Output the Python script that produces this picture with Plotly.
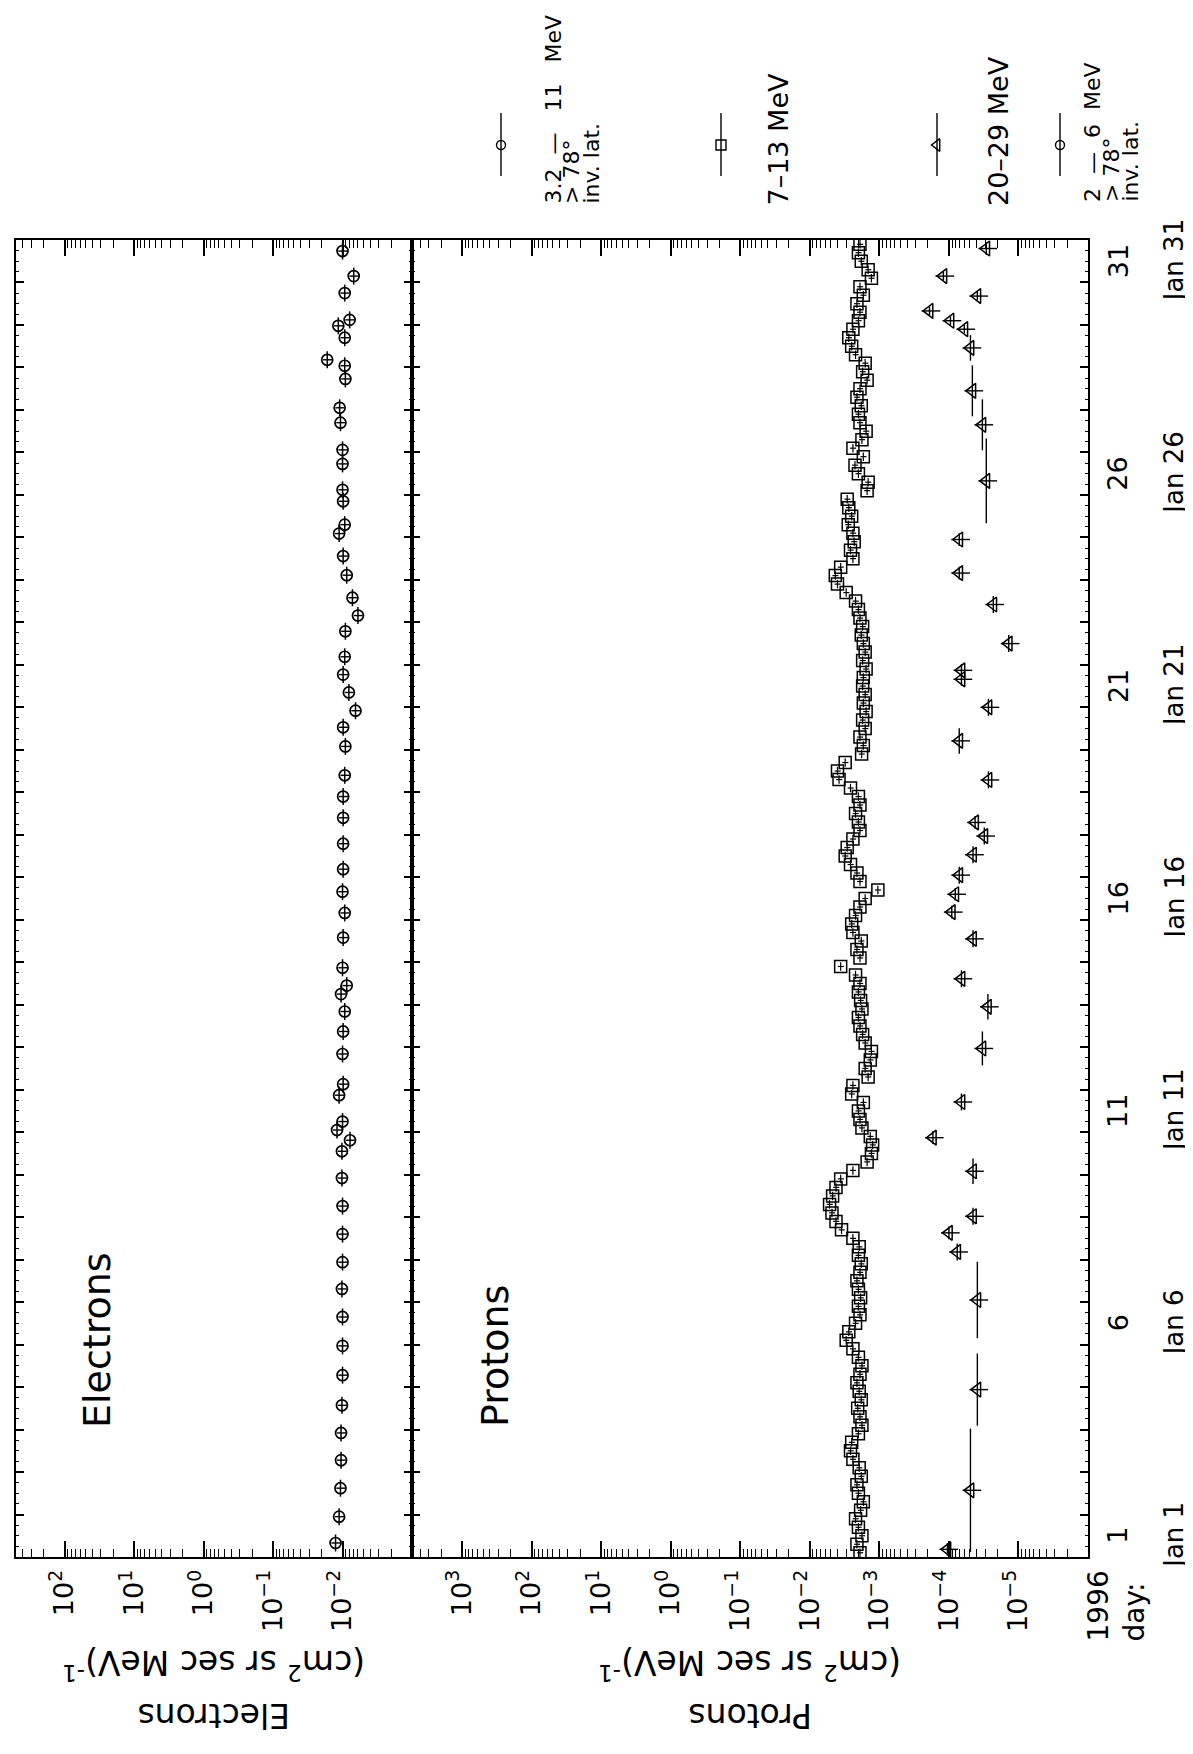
import plotly.graph_objects as go

W, H = 1193, 1754
FONT = "DejaVu Sans"

# ---------------- data ----------------
# Electrons 2-6 MeV, >78 deg inv. lat.
e_day = [1.33, 1.95, 2.62, 3.28, 3.92, 4.57, 5.28, 5.97, 6.65, 7.31, 7.94, 8.60, 9.26, 9.92,
         10.55, 10.81, 11.05, 11.25, 11.87, 12.13, 12.84, 13.37, 13.84, 14.25, 14.45, 14.87,
         15.58, 16.16, 16.66, 17.19, 17.79, 18.40, 18.90, 19.40, 20.08, 20.53, 20.92, 21.35,
         21.77, 22.19, 22.79, 23.16, 23.58, 24.11, 24.56, 25.09, 25.30, 25.85, 26.12, 26.73,
         27.06, 27.70, 28.05, 28.73, 29.04, 29.18, 29.70, 29.98, 30.12, 30.75, 31.15, 31.74]
e_flux = [1.26e-2, 1.12e-2, 1.07e-2, 1.05e-2, 1.05e-2, 1.02e-2, 1.00e-2, 1.00e-2, 1.00e-2, 1.02e-2,
          1.00e-2, 1.00e-2, 1.00e-2, 1.02e-2, 1.02e-2, 7.8e-3, 1.20e-2, 1.00e-2, 1.12e-2, 9.8e-3,
          1.00e-2, 9.8e-3, 9.3e-3, 1.05e-2, 8.7e-3, 1.00e-2, 9.8e-3, 9.3e-3, 1.00e-2, 9.8e-3,
          9.8e-3, 9.8e-3, 9.8e-3, 9.3e-3, 9.1e-3, 9.8e-3, 6.5e-3, 8.1e-3, 9.8e-3, 9.3e-3,
          9.1e-3, 6.0e-3, 7.2e-3, 8.7e-3, 9.8e-3, 1.12e-2, 9.3e-3, 9.8e-3, 1.00e-2, 1.00e-2,
          1.00e-2, 1.07e-2, 1.10e-2, 9.1e-3, 9.3e-3, 1.66e-2, 9.3e-3, 1.15e-2, 7.9e-3, 9.3e-3,
          6.9e-3, 1.00e-2]

# Protons 7-13 MeV (squares)
p_sq_day = [1.1, 1.3, 1.5, 1.7, 1.9, 2.1, 2.3, 2.5, 2.7, 2.9,
            3.1, 3.3, 3.5, 3.7, 3.9, 4.1, 4.3, 4.5, 4.7, 4.9,
            5.1, 5.3, 5.5, 5.7, 5.9, 6.1, 6.3, 6.5, 6.7, 6.9,
            7.1, 7.3, 7.5, 7.7, 7.9, 8.1, 8.3, 8.5, 8.7, 8.9,
            9.1, 9.3, 9.5, 9.7, 9.9, 10.1, 10.3, 10.5, 10.7, 10.9,
            11.1, 11.3, 11.5, 11.7, 11.9, 12.1, 12.3, 12.5, 12.7, 12.9,
            13.1, 13.3, 13.5, 13.7, 13.9, 14.1, 14.3, 14.5, 14.7, 14.9,
            15.1, 15.3, 15.5, 15.7, 15.9, 16.1, 16.3, 16.5, 16.7, 16.9,
            17.1, 17.3, 17.5, 17.7, 17.9, 18.1, 18.3, 18.5, 18.7, 18.9,
            19.1, 19.3, 19.5, 19.7, 19.9, 20.1, 20.3, 20.5, 20.7, 20.9,
            21.1, 21.3, 21.5, 21.7, 21.9, 22.1, 22.3, 22.5, 22.7, 22.9,
            23.1, 23.3, 23.5, 23.7, 23.9, 24.1, 24.3, 24.5, 24.7, 24.9,
            25.1, 25.3, 25.5, 25.7, 25.9, 26.1, 26.3, 26.5, 26.7, 26.9,
            27.1, 27.3, 27.5, 27.7, 27.9, 28.1, 28.3, 28.5, 28.7, 28.9,
            29.1, 29.3, 29.5, 29.7, 29.9, 30.1, 30.3, 30.5, 30.7, 30.9,
            31.1, 31.3, 31.5, 31.7, 31.9]
p_sq_flux = [1.9e-3, 2.1e-3, 1.78e-3, 2.0e-3, 2.2e-3, 1.86e-3, 1.7e-3, 2.0e-3, 2.1e-3, 1.82e-3,
             1.95e-3, 2.4e-3, 2.6e-3, 2.5e-3, 2.0e-3, 1.78e-3, 1.9e-3, 2.05e-3, 1.82e-3, 1.95e-3,
             2.1e-3, 1.9e-3, 1.78e-3, 2.0e-3, 2.4e-3, 3.0e-3, 2.75e-3, 2.2e-3, 1.9e-3, 2.0e-3,
             1.86e-3, 2.0e-3, 2.1e-3, 1.9e-3, 1.82e-3, 2.0e-3, 1.95e-3, 2.4e-3, 3.5e-3, 4.2e-3,
             4.8e-3, 5.2e-3, 4.7e-3, 4.2e-3, 3.6e-3, 2.4e-3, 1.5e-3, 1.3e-3, 1.25e-3, 1.35e-3,
             1.78e-3, 1.9e-3, 2.0e-3, 1.7e-3, 2.5e-3, 2.4e-3, 1.45e-3, 1.6e-3, 1.35e-3, 1.3e-3,
             1.6e-3, 1.74e-3, 1.9e-3, 2.0e-3, 1.78e-3, 1.86e-3, 2.0e-3, 1.9e-3, 2.2e-3, 3.6e-3,
             1.9e-3, 2.1e-3, 1.82e-3, 2.4e-3, 2.5e-3, 2.2e-3, 1.9e-3, 1.6e-3, 1.05e-3, 1.9e-3,
             2.1e-3, 2.6e-3, 3.1e-3, 2.9e-3, 2.4e-3, 1.9e-3, 2.0e-3, 2.2e-3, 1.9e-3, 2.0e-3,
             2.6e-3, 3.8e-3, 4.0e-3, 3.1e-3, 1.8e-3, 1.7e-3, 1.9e-3, 1.6e-3, 1.74e-3, 1.55e-3,
             1.7e-3, 1.6e-3, 1.74e-3, 1.7e-3, 1.55e-3, 1.74e-3, 1.6e-3, 1.7e-3, 1.82e-3, 1.74e-3,
             1.9e-3, 2.0e-3, 2.2e-3, 3.0e-3, 4.0e-3, 4.3e-3, 3.6e-3, 2.4e-3, 2.6e-3, 2.3e-3,
             2.4e-3, 2.8e-3, 2.5e-3, 2.75e-3, 2.9e-3, 1.5e-3, 1.45e-3, 2.0e-3, 2.24e-3, 1.7e-3,
             2.4e-3, 1.78e-3, 1.55e-3, 1.9e-3, 2.0e-3, 1.82e-3, 2.1e-3, 1.9e-3, 1.5e-3, 1.74e-3,
             1.6e-3, 2.2e-3, 2.5e-3, 2.75e-3, 2.4e-3, 2.0e-3, 1.9e-3, 2.1e-3, 1.7e-3, 1.9e-3,
             1.3e-3, 1.45e-3, 1.82e-3, 2.0e-3, 1.9e-3]

# Protons 20-29 MeV (triangles), with time-bin half widths (days)
p_tr_day = [1.18, 2.57, 4.94, 7.05, 8.18, 8.63, 9.02, 10.08, 10.87, 11.71, 12.97, 13.95, 14.61,
            15.55, 16.18, 16.60, 17.05, 17.53, 17.97, 18.29, 19.29, 20.21, 21.00, 21.66, 21.87,
            22.50, 23.42, 24.16, 24.95, 26.33, 27.65, 28.45, 29.46, 29.90, 30.10, 30.33, 30.68,
            31.15, 31.80]
p_tr_flux = [1.05e-4, 4.9e-5, 3.9e-5, 3.9e-5, 7.6e-5, 1.0e-4, 4.5e-5, 4.5e-5, 1.7e-4, 6.6e-5,
             3.3e-5, 2.75e-5, 6.6e-5, 4.5e-5, 9.1e-5, 8.1e-5, 7.1e-5, 4.5e-5, 3.1e-5, 4.2e-5,
             2.7e-5, 7.1e-5, 2.7e-5, 6.6e-5, 6.6e-5, 1.38e-5, 2.3e-5, 7.1e-5, 7.1e-5, 2.9e-5,
             3.3e-5, 4.6e-5, 4.9e-5, 6.0e-5, 9.5e-5, 1.9e-4, 3.9e-5, 1.2e-4, 2.9e-5]
p_tr_bin = [0.15, 1.45, 0.85, 0.9, 0.2, 0.15, 0.2, 0.3, 0.15, 0.2, 0.4, 0.3, 0.2,
            0.2, 0.15, 0.15, 0.2, 0.2, 0.2, 0.15, 0.2, 0.3, 0.2, 0.15, 0.15,
            0.2, 0.2, 0.15, 0.15, 1.0, 0.6, 0.6, 0.3, 0.1, 0.1, 0.1, 0.1,
            0.1, 0.15]

e_tickvals = [1e2, 1e1, 1e0, 1e-1, 1e-2]
e_ticktext = ["10<sup>2</sup>", "10<sup>1</sup>", "10<sup>0</sup>", "10<sup>−1</sup>", "10<sup>−2</sup>"]
p_tickvals = [1e3, 1e2, 1e1, 1e0, 1e-1, 1e-2, 1e-3, 1e-4, 1e-5]
p_ticktext = ["10<sup>3</sup>", "10<sup>2</sup>", "10<sup>1</sup>", "10<sup>0</sup>", "10<sup>−1</sup>",
              "10<sup>−2</sup>", "10<sup>−3</sup>", "10<sup>−4</sup>", "10<sup>−5</sup>"]
day_labels = [1, 6, 11, 16, 21, 26, 31]
date_labels = ["Jan 1", "Jan 6", "Jan 11", "Jan 16", "Jan 21", "Jan 26", "Jan 31"]

# ---------------- layout geometry (pixels) ----------------
FL, FD, FR = 8, 404, 1080      # left frame, divider, right frame
FT, FB = 232, 1549             # top, bottom frame


def px(x):
    return x / W


def py(y):
    return 1 - y / H


minor_log = [k * 10.0 ** e for e in range(-7, 4) for k in range(2, 10)]

black = "black"
fig = go.Figure()

# electrons
fig.add_trace(go.Scatter(
    x=e_flux, y=e_day, mode="markers", xaxis="x", yaxis="y",
    marker=dict(symbol="circle-open", size=11, color=black, line=dict(width=1.7, color=black)),
    error_y=dict(type="constant", value=0.2, thickness=1.5, width=0, color=black),
    error_x=dict(type="percent", value=15, thickness=1.4, width=0, color=black),
    showlegend=False))

# protons squares
fig.add_trace(go.Scatter(
    x=p_sq_flux, y=p_sq_day, mode="markers", xaxis="x2", yaxis="y2",
    marker=dict(symbol="square-open", size=12, color=black, line=dict(width=1.5, color=black)),
    error_y=dict(type="constant", value=0.1, thickness=1.2, width=0, color=black),
    error_x=dict(type="percent", value=10, thickness=1.2, width=0, color=black),
    showlegend=False))

# protons triangles
fig.add_trace(go.Scatter(
    x=p_tr_flux, y=p_tr_day, mode="markers", xaxis="x2", yaxis="y2",
    marker=dict(symbol="triangle-left-open", size=13, color=black, line=dict(width=1.5, color=black)),
    error_y=dict(type="data", array=p_tr_bin, thickness=1.4, width=0, color=black),
    error_x=dict(type="percent", value=30, thickness=1.4, width=0, color=black),
    showlegend=False))

# legend symbols (on a pixel overlay axis)
leg = [(493, "circle-open", 9), (713, "square-open", 10), (929, "triangle-left-open", 11),
       (1052, "circle-open", 9)]
for xx, sym, sz in leg:
    fig.add_trace(go.Scatter(x=[xx, xx], y=[105, 168], mode="lines", xaxis="x3", yaxis="y3",
                             line=dict(color=black, width=1.4), showlegend=False, hoverinfo="skip"))
    fig.add_trace(go.Scatter(x=[xx], y=[137], mode="markers", xaxis="x3", yaxis="y3",
                             marker=dict(symbol=sym, size=sz, color=black, line=dict(width=1.4, color=black)),
                             showlegend=False, hoverinfo="skip"))

tickfont = dict(family=FONT, size=27, color=black)
common_log = dict(type="log", showline=True, linecolor=black, linewidth=2, mirror="ticks",
                  ticks="inside", ticklen=16, tickwidth=2, tickcolor=black, tickangle=-90,
                  tickfont=tickfont, showgrid=False, zeroline=False,
                  minor=dict(tickvals=minor_log, ticks="inside", ticklen=8, tickwidth=1.3,
                             tickcolor=black, showgrid=False))
common_day = dict(range=[1, 32], showline=True, linecolor=black, linewidth=2, mirror="ticks",
                  ticks="inside", ticklen=8, tickwidth=2, tickcolor=black, tick0=1, dtick=1,
                  showticklabels=False, showgrid=False, zeroline=False,
                  minor=dict(dtick=0.25, ticks="inside", ticklen=3, tickwidth=1, tickcolor=black,
                             showgrid=False),
                  domain=[py(FB), py(FT)])

fig.update_layout(
    width=W, height=H, margin=dict(l=0, r=0, t=0, b=0),
    paper_bgcolor="white", plot_bgcolor="rgba(0,0,0,0)",
    font=dict(family=FONT, color=black),
    xaxis=dict(common_log, range=[2.70, -3.0], domain=[px(FL), px(FD)], anchor="y",
               tickvals=e_tickvals, ticktext=e_ticktext),
    yaxis=dict(common_day, anchor="x"),
    xaxis2=dict(common_log, range=[3.72, -6.0], domain=[px(FD), px(FR)], anchor="y2",
                tickvals=p_tickvals, ticktext=p_ticktext),
    yaxis2=dict(common_day, anchor="x2"),
    xaxis3=dict(range=[0, W], domain=[0, 1], anchor="y3", visible=False, fixedrange=True),
    yaxis3=dict(range=[H, 0], domain=[0, 1], anchor="x3", visible=False, fixedrange=True),
    showlegend=False,
)

ann = []


def text(x, y, s, size, angle=-90, xanchor="center", yanchor="middle", align="center", yref="paper"):
    ann.append(dict(x=px(x), y=(py(y) if yref == "paper" else y), xref="paper", yref=yref,
                    text=s, showarrow=False, textangle=angle, xanchor=xanchor, yanchor=yanchor,
                    align=align, font=dict(family=FONT, size=size, color=black)))


NB = "\u00a0"

# day labels on the right
for d, lab in zip(day_labels, date_labels):
    text(1110, d + 0.5, str(d), 27, yref="y2")
    text(1166, d + 0.5, lab, 26, yref="y2")

text(1108, 1636, "1996<br>day:", 28, yanchor="bottom", align="left")

# legend texts
text(545, 198, "3.2" + NB * 2 + "—" + NB * 3 + "11" + NB * 3 + "MeV", 22, yanchor="bottom")
text(564, 198, ">" + NB + "78°", 22, yanchor="bottom")
text(583, 198, "inv." + NB + "lat.", 22, yanchor="bottom")
text(770, 200, "7–13 MeV", 27, yanchor="bottom")
text(990, 200, "20–29 MeV", 27, yanchor="bottom")
text(1084, 196, "2" + NB * 2 + "—" + NB * 2 + "6" + NB * 2 + "MeV", 22, yanchor="bottom")
text(1103, 196, ">" + NB + "78°", 22, yanchor="bottom")
text(1122, 196, "inv." + NB + "lat.", 22, yanchor="bottom")

# panel names
text(89, 1332, "Electrons", 38)
text(487, 1348, "Protons", 38)

# axis titles (upside-down)
units = "(cm<sup>2</sup> sr sec MeV)<sup>-1</sup>"
text(206, 1657, units, 33, angle=180)
text(206, 1708, "Electrons", 33, angle=180)
text(742, 1657, units, 33, angle=180)
text(742, 1708, "Protons", 33, angle=180)

fig.update_layout(annotations=ann)
fig.write_html("out.html")
